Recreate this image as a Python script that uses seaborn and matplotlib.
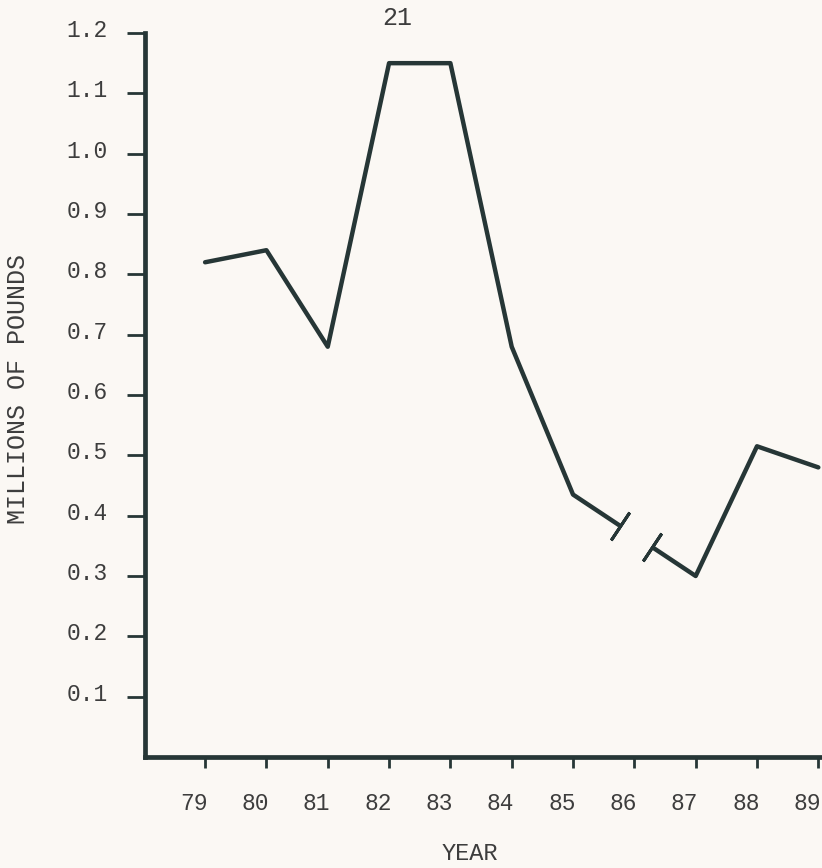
import numpy as np
import pandas as pd
import seaborn as sns
import matplotlib.pyplot as plt
from matplotlib.transforms import ScaledTranslation

# values (1986 is a break in the line)
years = [79, 80, 81, 82, 83, 84, 85, 87, 88, 89]
pounds = [0.82, 0.84, 0.68, 1.15, 1.15, 0.68, 0.435, 0.30, 0.515, 0.48]
year_ticks = [79, 80, 81, 82, 83, 84, 85, 86, 87, 88, 89]
y_ticks = [0.1, 0.2, 0.3, 0.4, 0.5, 0.6, 0.7, 0.8, 0.9, 1.0, 1.1, 1.2]
y_labels = ['0.1', '0.2', '0.3', '0.4', '0.5', '0.6', '0.7', '0.8', '0.9', '1.0', '1.1', '1.2']

ink = '#263636'
paper = '#fbf8f4'
text_c = '#3d3d3d'

sns.set_style('ticks')
plt.rcParams['font.family'] = ['Liberation Mono', 'DejaVu Sans Mono']

fig = plt.figure(figsize=(8.22, 8.68), dpi=100, facecolor=paper)
ax = fig.add_axes([145 / 822, 111 / 868, 677 / 822, 724 / 868])
ax.set_facecolor(paper)

df = pd.DataFrame({'year': years, 'pounds': pounds})
sns.lineplot(data=df, x='year', y='pounds', ax=ax, color=ink, lw=3.2, sort=False)

ax.set_xlim(78.02, 89.06)
ax.set_ylim(0, 1.2)

# broken segment between 85 and 87
i = years.index(85)
x0, y0, x1, y1 = years[i], pounds[i], years[i + 1], pounds[i + 1]
g0 = (x0 + 0.38 * (x1 - x0), y0 + 0.38 * (y1 - y0))
g1 = (x0 + 0.64 * (x1 - x0), y0 + 0.64 * (y1 - y0))
ax.plot([g0[0], g1[0]], [g0[1], g1[1]], color=paper, lw=7, solid_capstyle='butt', zorder=3)
d0 = ax.transData.transform((x0, y0))
d1 = ax.transData.transform((x1, y1))
ang = np.degrees(np.arctan2(d1[1] - d0[1], d1[0] - d0[0]))
ax.plot([g0[0], g1[0]], [g0[1], g1[1]], ls='none', marker=(2, 2, ang), ms=24,
        mew=2.2, mec=ink, zorder=4)

sns.despine(ax=ax)
for s in ['left', 'bottom']:
    ax.spines[s].set_linewidth(3.4)
    ax.spines[s].set_color(ink)

ax.set_xticks(year_ticks)
ax.set_xticklabels([str(y) for y in year_ticks])
ax.set_yticks(y_ticks)
ax.set_yticklabels(y_labels)
ax.tick_params(axis='y', length=13, width=2, pad=14, color=ink, labelsize=16.5, labelcolor=text_c)
ax.tick_params(axis='x', length=8, width=2, pad=17, color=ink, labelsize=16.5, labelcolor=text_c)

# typewritten labels sit a little off their ticks
for lab in ax.get_xticklabels():
    lab.set_transform(lab.get_transform() + ScaledTranslation(-0.11, 0, fig.dpi_scale_trans))
for lab in ax.get_yticklabels():
    lab.set_transform(lab.get_transform() + ScaledTranslation(0, 0.05, fig.dpi_scale_trans))

ax.set_ylabel('MILLIONS OF POUNDS', fontsize=18, color=text_c, va='center')
ax.yaxis.set_label_coords((18 - 145) / 677, (757 - 389) / 724)
ax.set_xlabel('YEAR', fontsize=17, color=text_c, va='center')
ax.xaxis.set_label_coords((470 - 145) / 677, (757 - 853) / 724)

fig.text(397 / 822, 1 - 18 / 868, '21', ha='center', va='center', fontsize=18, color=text_c)

fig.savefig('out.png', dpi=100, facecolor=paper)
